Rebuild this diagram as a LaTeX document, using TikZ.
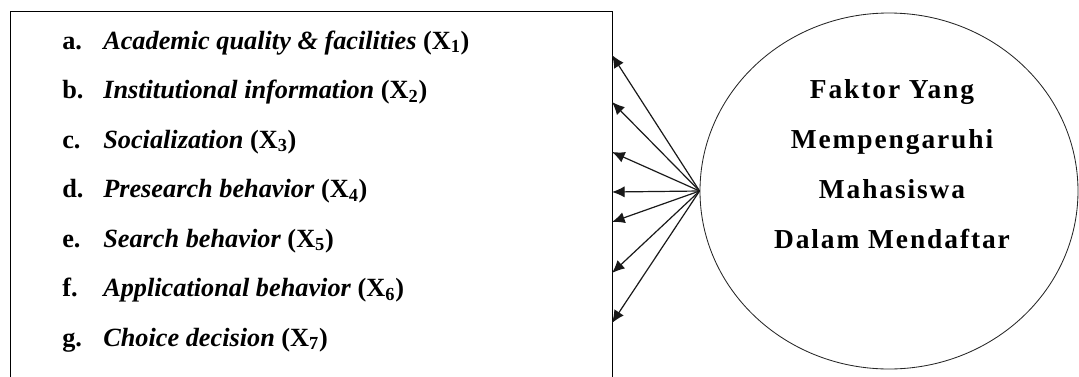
\documentclass[tikz,border=0pt]{standalone}
\usepackage{fontspec}
\setmainfont{Liberation Serif}
\newfontfamily\circfont[LetterSpace=7]{Liberation Serif}
\usepackage{tikz}
\usetikzlibrary{arrows.meta,calc,positioning,shapes.geometric}
\tikzset{
  listbox/.style={draw=black, line width=1pt, anchor=north west, minimum width=15.05cm, minimum height=10cm, inner sep=0pt},
  itemtext/.style={anchor=base west, inner sep=0pt, font=\fontsize{18.7}{20}\selectfont\bfseries},
  factorcircle/.style={draw=black!85, line width=0.6pt, ellipse, minimum width=9.45cm, minimum height=8.9cm, inner sep=0pt},
  factortext/.style={align=center, inner sep=0pt, font=\circfont\fontsize{19.5}{35.6}\selectfont\bfseries},
  link/.style={black!90, line width=0.85pt, -{Latex[length=9pt,width=8pt]}}
}
\newcommand{\itemlabel}[1]{\makebox[1.025cm][l]{#1}}

\begin{document}
\begin{tikzpicture}
  \useasboundingbox (0,0) rectangle (26.975,-9.4);
  \clip (0,0) rectangle (26.975,-9.4);
  \node[listbox] (box) at (0.25,-0.275) {};
  \foreach \n/\y/\lbl/\txt/\k in {a/1.225/a./Academic quality \& facilities/1,
      b/2.4625/b./Institutional information/2,
      c/3.7/c./Socialization/3,
      d/4.9375/d./Presearch behavior/4,
      e/6.175/e./Search behavior/5,
      f/7.4125/f./Applicational behavior/6,
      g/8.65/g./Choice decision/7}{
    \node[itemtext] (item-\n) at (1.55,-\y) {\itemlabel{\lbl}\textit{\txt} (X\textsubscript{\k})};
  }
  \node[factorcircle] (circ) at (22.225,-4.775) {};
  \node[factortext] (factor) at (22.3,-4.1) {Faktor Yang\\Mempengaruhi\\Mahasiswa\\Dalam Mendaftar};
  \foreach \i/\y in {1/1.375,2/2.55,3/3.8,4/4.8,5/5.55,6/6.825,7/8.075}
    \coordinate (tip\i) at (15.3,-\y);
  \foreach \i in {1,...,7}
    \draw[link] (circ.west) -- (tip\i);
\end{tikzpicture}
\end{document}
